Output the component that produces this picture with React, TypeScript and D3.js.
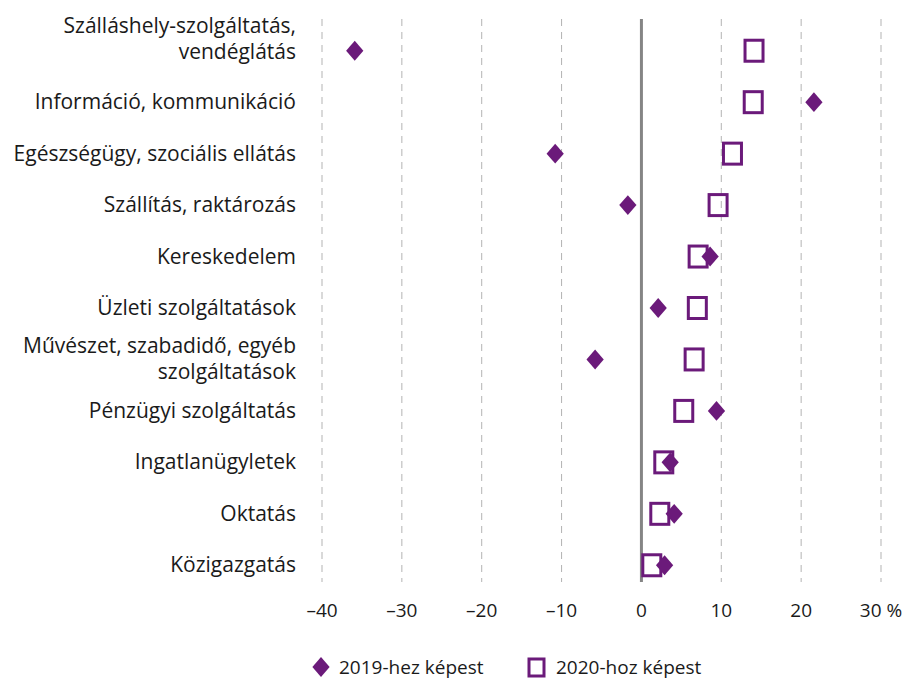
import * as d3 from 'd3';

const categories = [
  ['Szálláshely-szolgáltatás,', 'vendéglátás'],
  ['Információ, kommunikáció'],
  ['Egészségügy, szociális ellátás'],
  ['Szállítás, raktározás'],
  ['Kereskedelem'],
  ['Üzleti szolgáltatások'],
  ['Művészet, szabadidő, egyéb', 'szolgáltatások'],
  ['Pénzügyi szolgáltatás'],
  ['Ingatlanügyletek'],
  ['Oktatás'],
  ['Közigazgatás'],
];
const vs2019 = [-35.9, 21.6, -10.8, -1.7, 8.6, 2.1, -5.8, 9.4, 3.6, 4.1, 2.9];
const vs2020 = [14.1, 14.0, 11.4, 9.6, 7.1, 7.0, 6.6, 5.3, 2.8, 2.3, 1.3];
const ticks = [-40, -30, -20, -10, 0, 10, 20, 30];
const legendLabels = ['2019-hez képest', '2020-hoz képest'];

const W = 919;
const H = 679;
const color = '#6b1a7a';
const font = '"Open Sans", "Noto Sans", sans-serif';
const lineH = 26;

export default function App() {
  const x = d3.scaleLinear().domain([-40, 30]).range([322, 881]);
  const y = d3.scaleBand<number>()
    .domain(d3.range(categories.length))
    .range([25, 591]);
  const cy = (i: number) => (y(i) ?? 0) + y.bandwidth() / 2;
  const diamond = d3.symbol(d3.symbolDiamond2, 190)() ?? '';

  // the top label sits with its last line on the marker row, the others are centred
  const labelTop = (i: number, n: number) =>
    i === 0 ? cy(i) - (n - 1) * lineH : cy(i) - (n - 1) * lineH / 2 - 1;

  return (
    <svg width={W} height={H} style={{ position: 'absolute', left: 0, top: 0, fontFamily: font }}>
      {ticks.filter(t => t !== 0).map(t => (
        <line key={t} x1={x(t)} x2={x(t)} y1={19} y2={582} stroke="#b3b3b3" strokeWidth={1} strokeDasharray="7,6" />
      ))}
      <line x1={x(0)} x2={x(0)} y1={19} y2={582} stroke="#858585" strokeWidth={3} />
      {categories.map((lines, i) => (
        <text key={i} x={296} y={labelTop(i, lines.length)} textAnchor="end" dominantBaseline="central" fontSize={21} fill="#1a1a1a">
          {lines.map((l, j) => (
            <tspan key={j} x={296} dy={j === 0 ? 0 : lineH}>{l}</tspan>
          ))}
        </text>
      ))}
      {vs2020.map((v, i) => (
        <rect key={i} x={x(v) - 9} y={cy(i) - 10.5} width={18} height={21} fill="none" stroke={color} strokeWidth={3} />
      ))}
      {vs2019.map((v, i) => (
        <path key={i} d={diamond} transform={`translate(${x(v)},${cy(i)}) scale(1,1.15)`} fill={color} />
      ))}
      {ticks.map(t => (
        <text key={t} x={x(t)} y={610} textAnchor="middle" dominantBaseline="central" fontSize={19} fill="#1a1a1a">
          {t < 0 ? '\u2013' + Math.abs(t) : t}{t === 30 ? ' %' : ''}
        </text>
      ))}
      <path d={diamond} transform="translate(321,667) scale(1,1.15)" fill={color} />
      <text x={339} y={667} dominantBaseline="central" fontSize={19} fill="#1a1a1a">{legendLabels[0]}</text>
      <rect x={529} y={659} width={15} height={17} fill="none" stroke={color} strokeWidth={3} />
      <text x={556} y={667} dominantBaseline="central" fontSize={19} fill="#1a1a1a">{legendLabels[1]}</text>
    </svg>
  );
}
